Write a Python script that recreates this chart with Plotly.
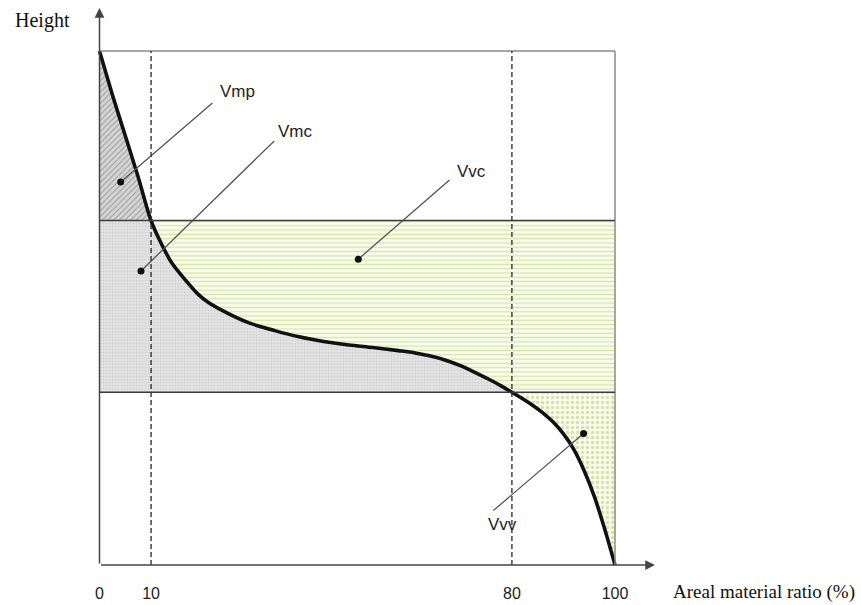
import plotly.graph_objects as go

# Areal material ratio curve: material ratio (%) vs. normalised height
mr = [0, 2.5, 5, 7.5, 10, 12, 14, 16.7, 19, 21.2, 25, 29, 34, 38.7, 43.5, 48.4,
      53, 58, 61, 64, 67, 70, 73, 76, 78, 80, 82, 84, 86, 88, 90, 92, 94, 96,
      98, 100]
height = [100, 91.5, 83.5, 75.5, 67, 62.5, 58.8, 55.4, 52.8, 51.0, 48.9, 47.1,
          45.6, 44.4, 43.5, 42.8, 42.3, 41.7, 41.3, 40.7, 39.9, 38.8, 37.4, 35.9,
          34.8, 33.6, 32.4, 31.1, 29.6, 27.8, 25.5, 22.5, 18.4, 13.3, 7.0, 0]

# Zone boundaries: material ratio limits and the matching heights
mr_limits = [10, 80]
h_limits = [67.0, 33.6]
h_top = 100
mr_end = 100

tick_vals = [0, 10, 80, 100]
tick_text = ["0", "10", "80", "100"]

zone_names = ["Vmp", "Vmc", "Vvc", "Vvv"]

# pixel <-> data layout of the full-figure plot area
W, H = 861, 605
x0_px, x_scale = 99.5, 5.155
y0_px, y_scale = 565.0, 5.14
x_range = [-x0_px / x_scale, (W - x0_px) / x_scale]
y_range = [(y0_px - H) / y_scale, y0_px / y_scale]

i_lo = mr.index(mr_limits[0])
i_hi = mr.index(mr_limits[1])

fig = go.Figure()

def zone(xs, ys, bg, fg, shape, size, solidity):
    fig.add_trace(go.Scatter(
        x=xs, y=ys, mode="lines", fill="toself", line=dict(width=0),
        fillcolor=bg,
        fillpattern=dict(shape=shape, bgcolor=bg, fgcolor=fg, size=size,
                         solidity=solidity, fillmode="replace"),
        hoverinfo="skip", showlegend=False))

# Vmp: peak material above the upper limit
zone(mr[:i_lo + 1] + [0], height[:i_lo + 1] + [h_limits[0]],
     "#d6d6d6", "#9c9c9c", "/", 4, 0.28)
# Vmc: core material
zone([0] + mr[i_lo:i_hi + 1] + [0],
     [h_limits[0]] + height[i_lo:i_hi + 1] + [h_limits[1]],
     "#e5e5e5", "#d0d0d0", ".", 3, 0.3)
# Vvc: core void
zone(mr[i_lo:i_hi + 1] + [mr_end, mr_end],
     height[i_lo:i_hi + 1] + [h_limits[1], h_limits[0]],
     "#fbfcf1", "#d9e5a6", "-", 4.3, 0.32)
# Vvv: valley void
zone(mr[i_hi:] + [mr_end], height[i_hi:] + [h_limits[1]],
     "#fafcf0", "#d6e3a2", ".", 5, 0.35)

shapes = []
# frame: top and right edges
shapes.append(dict(type="line", x0=0, x1=mr_end, y0=h_top, y1=h_top,
                   line=dict(color="#8a8a8a", width=1.5)))
shapes.append(dict(type="line", x0=mr_end, x1=mr_end, y0=0, y1=h_top,
                   line=dict(color="#8a8a8a", width=1.5)))
# horizontal zone limits
for h in h_limits:
    shapes.append(dict(type="line", x0=0, x1=mr_end, y0=h, y1=h,
                       line=dict(color="#3c3c3c", width=1.5)))
# vertical dashed material-ratio limits
for m in mr_limits:
    shapes.append(dict(type="line", x0=m, x1=m, y0=0, y1=h_top,
                       line=dict(color="#333333", width=1.4, dash="5px,3px")))
for s in shapes:
    s.update(xref="x", yref="y", layer="above")
fig.update_layout(shapes=shapes)

# the material ratio curve
fig.add_trace(go.Scatter(x=mr, y=height, mode="lines",
                         line=dict(color="#111111", width=3.6,
                                   shape="spline", smoothing=0.8),
                         hoverinfo="skip", showlegend=False))

# leader lines from each zone label to a dot inside the zone
label_pos = {"Vmp": (26.7, 92.2), "Vmc": (38.1, 84.4),
             "Vvc": (72.2, 76.6), "Vvv": (78.1, 7.9)}
leader_end = {"Vmp": (21.9, 89.9), "Vmc": (33.9, 82.5),
              "Vvc": (67.9, 74.9), "Vvv": (76.4, 10.6)}
leader_dot = {"Vmp": (4.1, 74.5), "Vmc": (8.05, 57.2),
              "Vvc": (50.2, 59.5), "Vvv": (93.9, 25.6)}
for name in zone_names:
    (ex, ey), (dx, dy) = leader_end[name], leader_dot[name]
    fig.add_trace(go.Scatter(x=[ex, dx], y=[ey, dy], mode="lines",
                             line=dict(color="#555555", width=1.3),
                             hoverinfo="skip", showlegend=False))
fig.add_trace(go.Scatter(x=[leader_dot[n][0] for n in zone_names],
                         y=[leader_dot[n][1] for n in zone_names],
                         mode="markers",
                         marker=dict(color="#111111", size=7),
                         hoverinfo="skip", showlegend=False))

annotations = []
for name in zone_names:
    lx, ly = label_pos[name]
    annotations.append(dict(x=lx, y=ly, text=name, showarrow=False,
                            font=dict(family="Liberation Sans, Arial", size=17,
                                      color="#222222")))

# axes drawn as arrows
annotations.append(dict(x=0, y=(y0_px - 8) / y_scale, ax=0, ay=0,
                        axref="x", ayref="y", text="", showarrow=True,
                        arrowhead=2, arrowsize=1.3, arrowwidth=1.5,
                        arrowcolor="#444444", standoff=0, startstandoff=0))
annotations.append(dict(x=(655 - x0_px) / x_scale, y=0, ax=0, ay=0,
                        axref="x", ayref="y", text="", showarrow=True,
                        arrowhead=2, arrowsize=1.3, arrowwidth=1.5,
                        arrowcolor="#444444", standoff=0, startstandoff=0))

annotations.append(dict(x=(42 - x0_px) / x_scale, y=(y0_px - 20) / y_scale,
                        text="Height", showarrow=False,
                        font=dict(family="Liberation Serif, Times New Roman",
                                  size=20, color="#111111")))
annotations.append(dict(x=(857 - x0_px) / x_scale, y=(y0_px - 592) / y_scale,
                        text="Areal material ratio (%)", showarrow=False,
                        xanchor="right",
                        font=dict(family="Liberation Serif, Times New Roman",
                                  size=19, color="#111111")))
fig.update_layout(annotations=annotations)

fig.update_layout(
    width=W, height=H,
    margin=dict(l=0, r=0, t=0, b=0),
    paper_bgcolor="white", plot_bgcolor="white",
    xaxis=dict(range=x_range, showgrid=False, zeroline=False, showline=False,
               ticks="", tickvals=tick_vals, ticktext=tick_text,
               ticklabelposition="inside",
               tickfont=dict(family="Liberation Sans, Arial", size=16,
                             color="#222222"),
               fixedrange=True),
    yaxis=dict(range=y_range, visible=False, fixedrange=True),
)

fig.write_html("out.html")
